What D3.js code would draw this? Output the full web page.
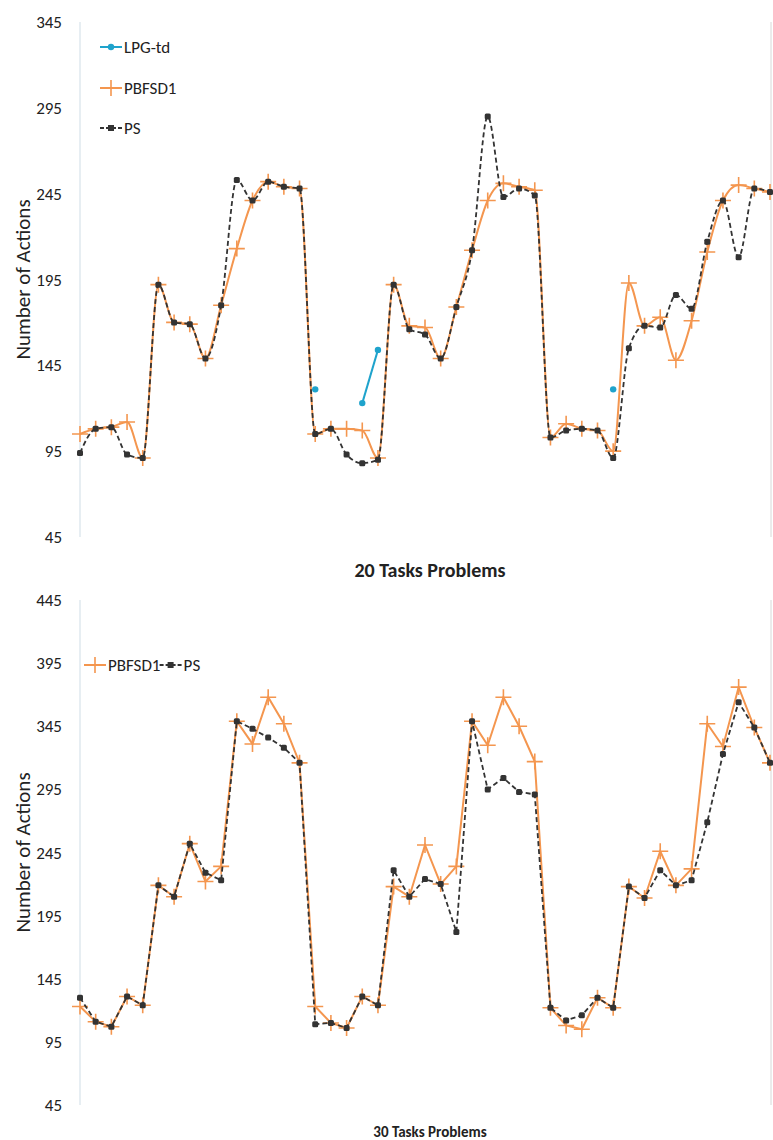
<!DOCTYPE html>
<html><head><meta charset="utf-8">
<script src="https://cdn.jsdelivr.net/npm/d3@7"></script>
<style>body{margin:0;background:#fff;font-family:Calibri,Carlito,"Open Sans",sans-serif}</style>
</head><body><svg id="c" width="773" height="1140"></svg>
<script>
// 20 tasks chart
const top_lpg = [null,null,null,null,null,null,null,null,null,null,null,null,null,null,null,
  131,null,null,123,154,null,null,null,null,null,null,null,null,null,null,
  null,null,null,null,131,null,null,null,null,null,null,null,null,null,null];
const top_pbfsd = [105,108,109,112,91,192,170,169,149,180,213,241,252,249,248,
  105,108,108,107,91,192,168,167,149,179,212,241,251,249,247,
  103,111,108,107,95,193,168,173,148,171,211,241,250,248,246];
const top_ps = [94,108,109,93,91,192,170,169,149,180,253,241,252,249,248,
  105,108,93,88,90,192,166,163,149,179,212,290,243,248,244,
  103,107,108,107,91,155,168,167,186,178,217,241,208,248,246];
// 30 tasks chart
const bot_pbfsd = [123,111,107,131,124,219,210,252,222,234,349,331,368,347,316,
  123,110,106,131,124,218,210,251,220,234,349,330,368,345,317,
  122,108,105,130,122,218,209,246,219,232,347,329,376,344,316];
const bot_ps = [130,111,107,131,124,219,210,252,229,223,349,343,336,328,316,
  109,110,106,131,124,231,210,224,220,182,349,295,304,293,291,
  122,112,116,130,122,218,209,231,219,223,269,323,364,344,316];
const yTicks = {top:[45,95,145,195,245,295,345], bot:[45,95,145,195,245,295,345,395,445]};

const svg = d3.select("#c");
const x = d3.scaleLinear().domain([0, top_pbfsd.length - 1]).range([80, 770]);
const orange = "#f4964f", dark = "#333", blue = "#1fa3cc";

function panel(y0, y1, ticks, title, titleY, titleSize, titleWeight, smooth, series) {
  const y = d3.scaleLinear().domain([ticks[0], ticks[ticks.length - 1]]).range([y1, y0]);
  const g = svg.append("g");
  g.append("line").attr("x1", 80).attr("x2", 80).attr("y1", y0).attr("y2", y1).attr("stroke", "#cfdde6");
  g.append("line").attr("x1", 771).attr("x2", 771).attr("y1", y0).attr("y2", y1).attr("stroke", "#d8d8d8");
  g.selectAll(".t").data(ticks).enter().append("text")
    .attr("x", 62).attr("y", d => y(d) + 6).attr("text-anchor", "end")
    .attr("font-size", 17).attr("fill", "#222").text(d => d);
  g.append("text").attr("transform", `translate(30,${(y0 + y1) / 2}) rotate(-90)`)
    .attr("text-anchor", "middle").attr("font-size", 21).attr("fill", "#222").text("Number of Actions");
  g.append("text").attr("x", 430).attr("y", titleY).attr("text-anchor", "middle")
    .attr("font-size", titleSize).attr("font-weight", titleWeight).attr("fill", "#222").text(title);
  const curve = smooth ? d3.curveMonotoneX : d3.curveLinear;
  series.forEach(s => {
    const line = d3.line().defined(d => d != null).x((d, i) => x(i)).y(d => y(d)).curve(curve);
    g.append("path").attr("d", line(s.data)).attr("fill", "none").attr("stroke", s.color)
      .attr("stroke-width", s.w).attr("stroke-dasharray", s.dash || null);
    const pts = s.data.map((d, i) => [i, d]).filter(p => p[1] != null);
    if (s.mark === "plus") {
      g.selectAll(null).data(pts).enter().append("path")
        .attr("d", p => `M${x(p[0]) - 8},${y(p[1])}h16M${x(p[0])},${y(p[1]) - 8}v16`)
        .attr("stroke", s.color).attr("stroke-width", 1.6);
    } else if (s.mark === "sq") {
      g.selectAll(null).data(pts).enter().append("rect")
        .attr("x", p => x(p[0]) - 3).attr("y", p => y(p[1]) - 3).attr("width", 6).attr("height", 6)
        .attr("rx", 1.5).attr("fill", s.color);
    } else {
      g.selectAll(null).data(pts).enter().append("circle")
        .attr("cx", p => x(p[0])).attr("cy", p => y(p[1])).attr("r", 3.2).attr("fill", s.color);
    }
  });
  return g;
}

panel(22, 537, yTicks.top, "20 Tasks Problems", 577, 20, 600, true, [
  {data: top_lpg, color: blue, w: 2, mark: "dot"},
  {data: top_pbfsd, color: orange, w: 2, mark: "plus"},
  {data: top_ps, color: dark, w: 1.8, dash: "5,3", mark: "sq"}
]);
panel(600, 1105, yTicks.bot, "30 Tasks Problems", 1137, 15, "bold", false, [
  {data: bot_pbfsd, color: orange, w: 2, mark: "plus"},
  {data: bot_ps, color: dark, w: 1.8, dash: "5,3", mark: "sq"}
]);

// legends
function legItem(lx, ly, color, mark, dash, label) {
  const g = svg.append("g");
  g.append("line").attr("x1", lx).attr("x2", lx + 22).attr("y1", ly).attr("y2", ly)
    .attr("stroke", color).attr("stroke-width", 2).attr("stroke-dasharray", dash || null);
  if (mark === "plus") g.append("path").attr("d", `M${lx + 3},${ly}h16M${lx + 11},${ly - 8}v16`).attr("stroke", color).attr("stroke-width", 1.6);
  else if (mark === "sq") g.append("rect").attr("x", lx + 8).attr("y", ly - 3).attr("width", 6).attr("height", 6).attr("fill", color);
  else g.append("circle").attr("cx", lx + 11).attr("cy", ly).attr("r", 3.2).attr("fill", color);
  g.append("text").attr("x", lx + 24).attr("y", ly + 6).attr("font-size", 17).attr("fill", "#222").text(label);
  return lx + 24 + label.length * 9.6;
}
legItem(100, 47, blue, "dot", null, "LPG-td");
legItem(100, 88, orange, "plus", null, "PBFSD1");
legItem(100, 128, dark, "sq", "4,2", "PS");
let nx = legItem(84, 665, orange, "plus", null, "PBFSD1");
legItem(nx - 6, 665, dark, "sq", "4,2", "PS");
</script></body></html>
